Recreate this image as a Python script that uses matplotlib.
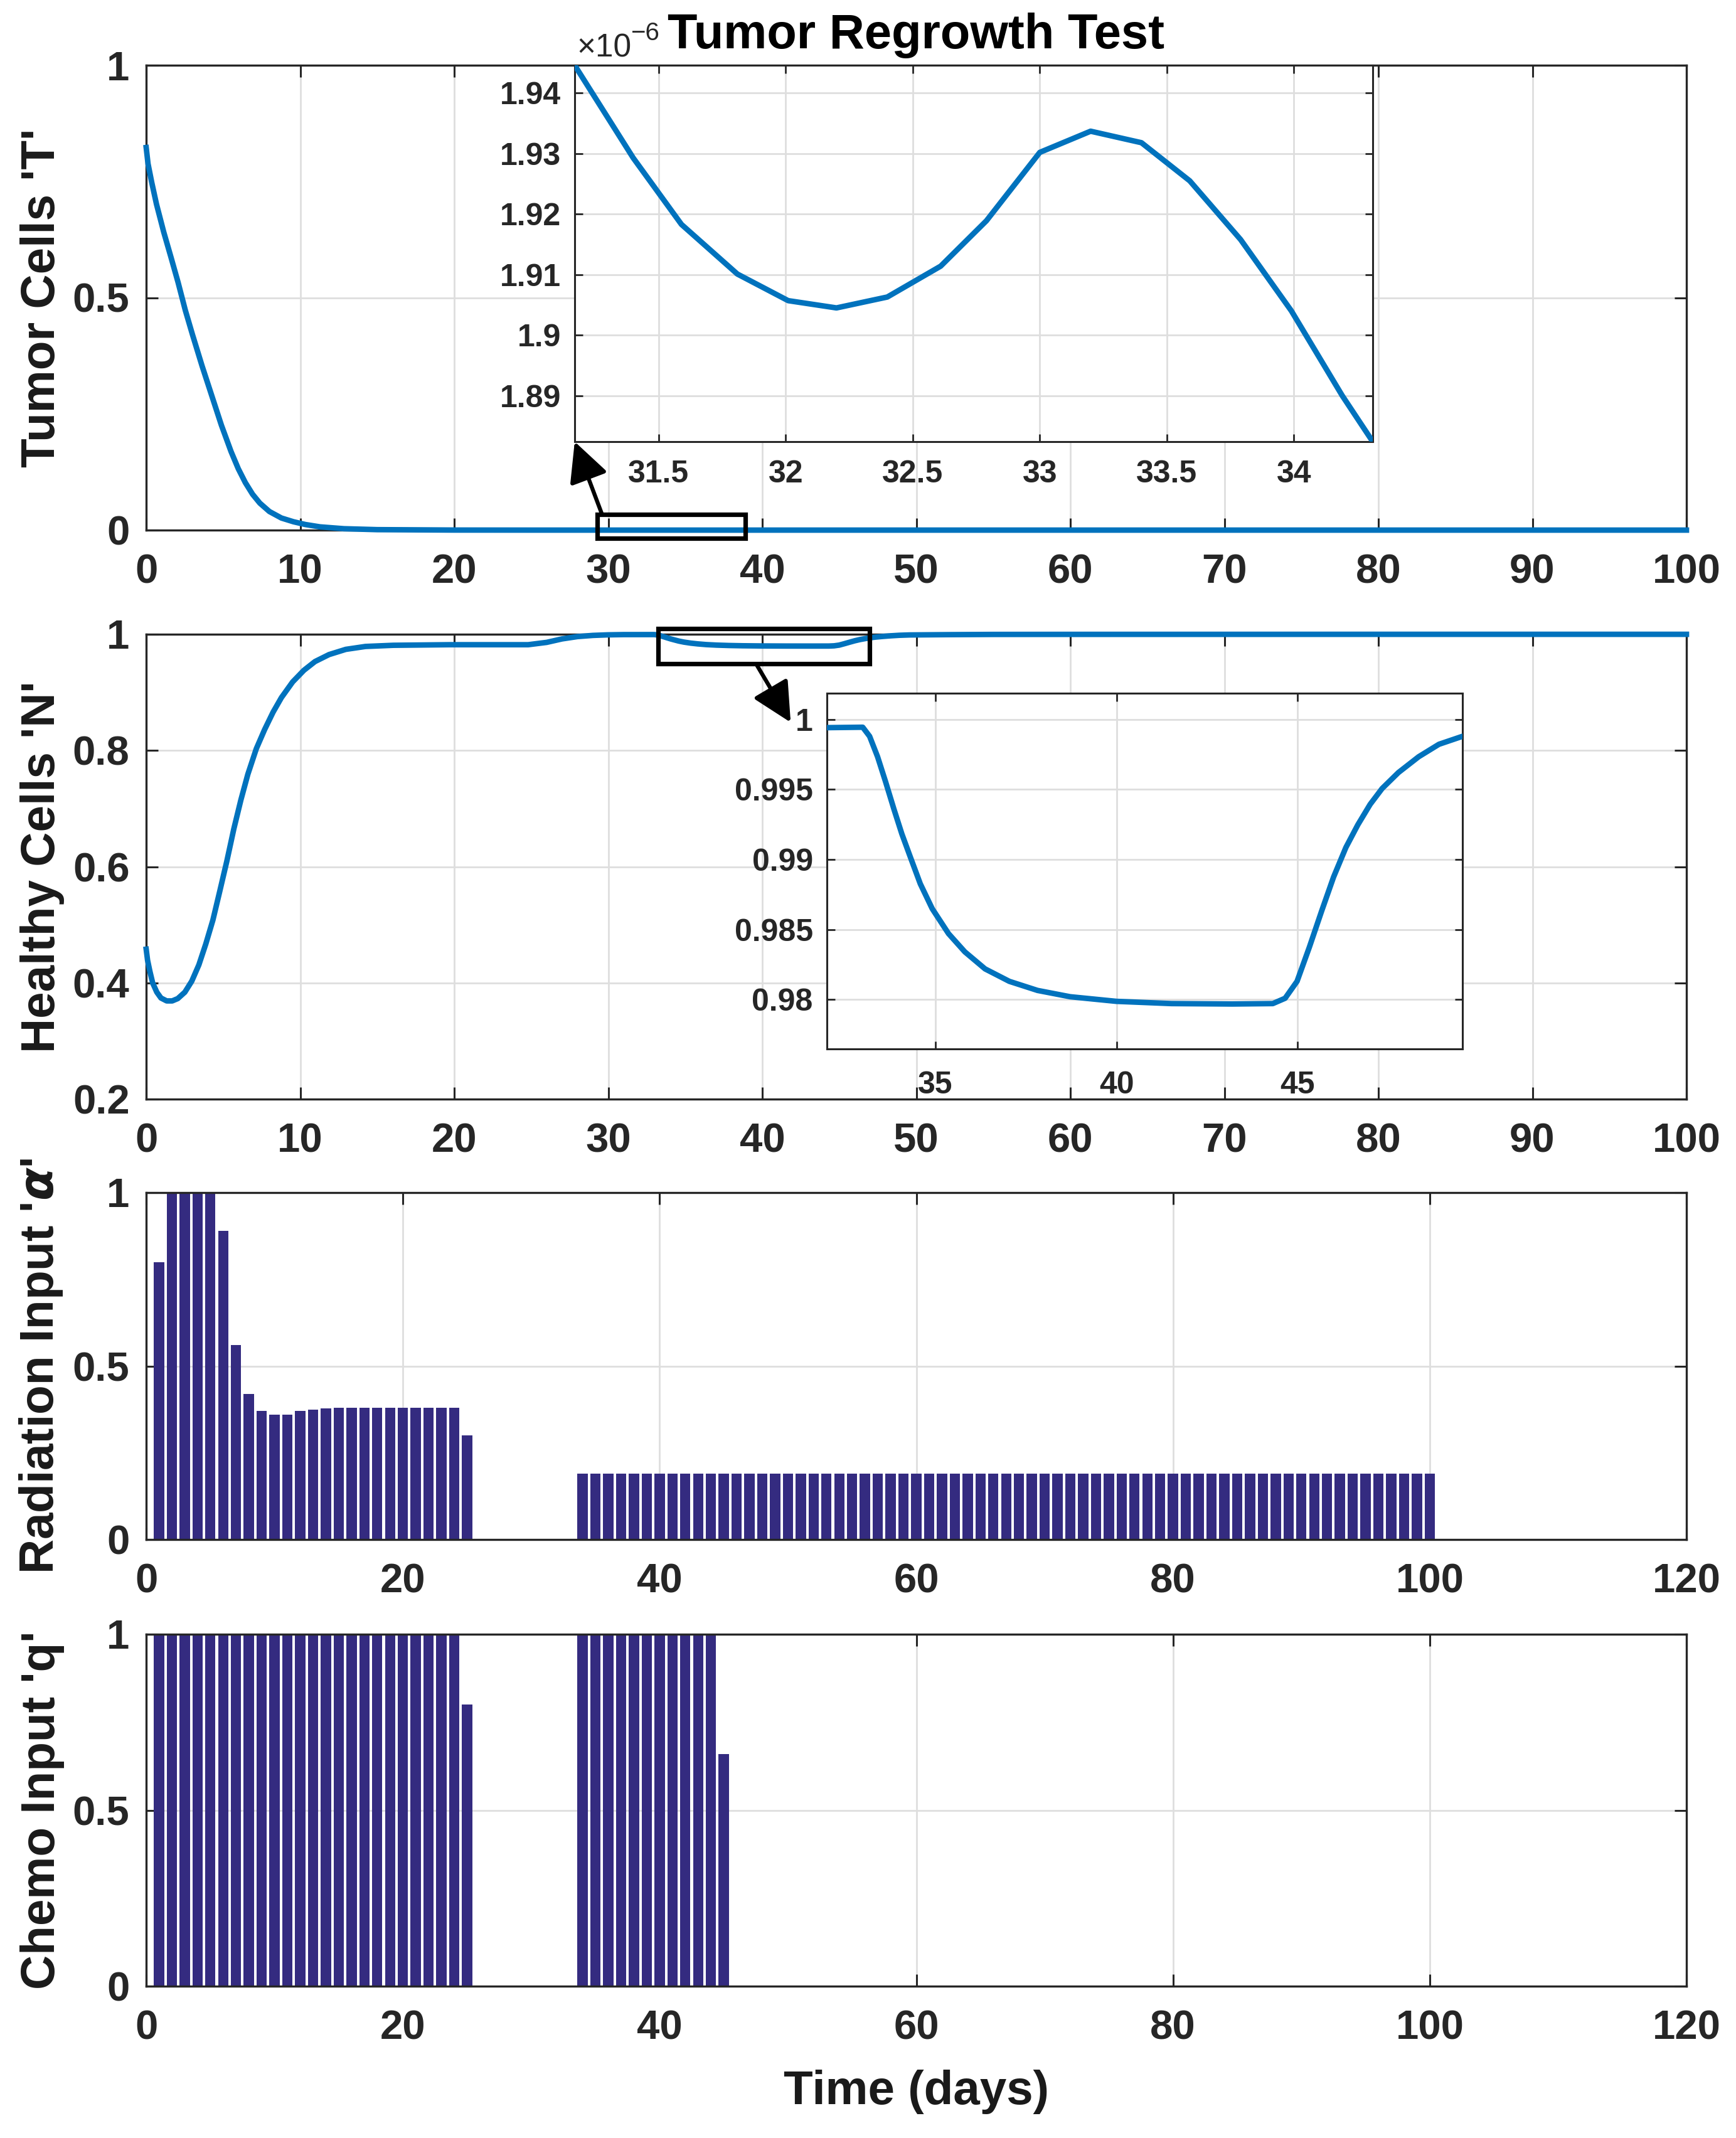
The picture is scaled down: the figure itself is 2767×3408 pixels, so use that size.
import matplotlib
matplotlib.use("Agg")
import matplotlib.pyplot as plt
from matplotlib.patches import Rectangle, ConnectionPatch, ArrowStyle
from matplotlib.ticker import FuncFormatter

plt.rcParams['font.family'] = ['Liberation Sans', 'DejaVu Sans']
plt.rcParams['font.weight'] = 'bold'

# ---------------- data ----------------
# Tumor cells T(t)
t_T = [0, 0.12, 0.36, 0.67, 1.14, 1.61, 2.07, 2.54, 3.01, 3.63, 4.26, 4.88, 5.51,
       5.98, 6.44, 6.91, 7.38, 8.0, 8.78, 9.56, 10.34, 11.28, 12.84, 15.0, 20.0,
       25.0, 30.0,
       31.17, 31.40, 31.59, 31.81, 32.01, 32.20, 32.40, 32.61, 32.79, 33.00,
       33.20, 33.40, 33.59, 33.79, 33.99, 34.19, 34.31,
       40.0, 60.0, 80.0, 100.0]
T = [0.823, 0.788, 0.748, 0.701, 0.641, 0.587, 0.533, 0.473, 0.420, 0.353, 0.289,
     0.226, 0.169, 0.132, 0.102, 0.077, 0.058, 0.040, 0.026, 0.018, 0.012, 0.007,
     0.003, 0.001, 1e-4, 1e-5, 2.2e-6,
     1.9446e-6, 1.9293e-6, 1.9183e-6, 1.9101e-6, 1.9057e-6, 1.9045e-6, 1.9063e-6,
     1.9114e-6, 1.9189e-6, 1.9302e-6, 1.9337e-6, 1.9318e-6, 1.9255e-6, 1.9158e-6,
     1.9040e-6, 1.8900e-6, 1.8824e-6,
     1.5e-6, 1.0e-6, 7e-7, 5e-7]

# Healthy cells N(t)
t_N = [0, 0.09, 0.24, 0.42, 0.69, 0.96, 1.33, 1.69, 2.05, 2.51, 2.96, 3.42, 3.87,
       4.33, 4.78, 5.24, 5.69, 6.15, 6.6, 7.15, 7.69, 8.24, 8.78, 9.51, 10.24,
       10.96, 11.87, 12.96, 14.24, 16.05, 19.7, 24.8, 26.0, 27.0, 28.0, 29.0,
       30.0, 31.0,
       32.0, 32.99, 33.18, 33.40, 33.62, 33.85, 34.07, 34.30, 34.58, 34.91, 35.36,
       35.81, 36.37, 37.04, 37.82, 38.72, 40.0, 41.52, 43.2, 44.32, 44.66, 44.99,
       45.33, 45.67, 46.0, 46.34, 46.67, 47.01, 47.34, 47.79, 48.35, 48.91, 49.56,
       52.0, 55.0, 60.0, 80.0, 100.0]
N = [0.458, 0.439, 0.420, 0.400, 0.384, 0.374, 0.369, 0.369, 0.373, 0.384, 0.403,
     0.431, 0.467, 0.508, 0.558, 0.610, 0.665, 0.715, 0.759, 0.803, 0.836, 0.866,
     0.891, 0.918, 0.938, 0.953, 0.965, 0.974, 0.979, 0.981, 0.982, 0.982, 0.986,
     0.992, 0.996, 0.998, 0.999, 0.9994,
     0.99942, 0.99945, 0.99880, 0.99734, 0.99556, 0.99361, 0.99183, 0.99021,
     0.98826, 0.98648, 0.98470, 0.98340, 0.98218, 0.98129, 0.98064, 0.98019,
     0.97986, 0.97970, 0.97967, 0.97970, 0.98008, 0.98129, 0.98373, 0.98632,
     0.98875, 0.99086, 0.99248, 0.99394, 0.99507, 0.99621, 0.99734, 0.99823,
     0.99880,
     0.9993, 0.9997, 0.9998, 0.9999, 0.9999]

# Radiation input alpha (daily doses)
rad_days = list(range(1, 26)) + list(range(34, 101))
rad_vals = [0.80, 1.00, 1.00, 1.00, 1.00, 0.89, 0.56, 0.42, 0.37, 0.36,
            0.36, 0.37, 0.375, 0.378, 0.38, 0.38, 0.38, 0.38, 0.38, 0.38,
            0.38, 0.38, 0.38, 0.38, 0.30,
            0.19, 0.19, 0.19, 0.19, 0.19, 0.19, 0.19, 0.19, 0.19, 0.19,
            0.19, 0.19, 0.19, 0.19, 0.19, 0.19, 0.19, 0.19, 0.19, 0.19,
            0.19, 0.19, 0.19, 0.19, 0.19, 0.19, 0.19, 0.19, 0.19, 0.19,
            0.19, 0.19, 0.19, 0.19, 0.19, 0.19, 0.19, 0.19, 0.19, 0.19,
            0.19, 0.19, 0.19, 0.19, 0.19, 0.19, 0.19, 0.19, 0.19, 0.19,
            0.19, 0.19, 0.19, 0.19, 0.19, 0.19, 0.19, 0.19, 0.19, 0.19,
            0.19, 0.19, 0.19, 0.19, 0.19, 0.19, 0.19]

# Chemo input q (daily doses)
chemo_days = list(range(1, 26)) + list(range(34, 46))
chemo_vals = [1, 1, 1, 1, 1, 1, 1, 1, 1, 1, 1, 1, 1, 1, 1, 1, 1, 1, 1, 1, 1, 1, 1, 1, 0.80,
              1, 1, 1, 1, 1, 1, 1, 1, 1, 1, 1, 0.66]

main_xticks_top = [0, 10, 20, 30, 40, 50, 60, 70, 80, 90, 100]
main_xticks_bot = [0, 20, 40, 60, 80, 100, 120]
in1_xticks = [31.5, 32, 32.5, 33, 33.5, 34]
in1_yticks = [1.89e-6, 1.90e-6, 1.91e-6, 1.92e-6, 1.93e-6, 1.94e-6]
in2_xticks = [35, 40, 45]
in2_yticks = [0.98, 0.985, 0.99, 0.995, 1.0]

# zoom windows
zoom1_x = (29.27, 38.91)
zoom1_y = (-0.0178, 0.0335)
zoom2_x = (33.25, 46.95)
zoom2_y = (0.949, 1.0094)

# ---------------- styling ----------------
W, H = 2767, 3408
DPI = 100
LINE_C = '#0072BD'
BAR_C = '#342B80'
AX_C = '#262626'
GRID_C = '#dedede'
LW = 6.3


def rect(l, t, r, b):
    return [l / W, 1 - b / H, (r - l) / W, (b - t) / H]


fig = plt.figure(figsize=(W / DPI, H / DPI), dpi=DPI)
fig.patch.set_facecolor('white')


def style_main(ax, xpad=27, ypad=19):
    ax.tick_params(direction='in', length=14, width=2.2, top=True, right=True,
                   labelsize=47, colors=AX_C)
    ax.tick_params(axis='x', pad=xpad)
    ax.tick_params(axis='y', pad=ypad)
    ax.grid(True, color=GRID_C, linewidth=2)
    ax.set_axisbelow(True)
    for s in ax.spines.values():
        s.set_linewidth(2.4)
        s.set_color(AX_C)
    ax.xaxis.set_major_formatter(FuncFormatter(lambda v, p: f"{v:g}"))
    ax.yaxis.set_major_formatter(FuncFormatter(lambda v, p: f"{round(v, 4):g}"))
    for lab in ax.get_xticklabels() + ax.get_yticklabels():
        lab.set_fontweight('bold')


def style_inset(ax, xpad, ypad):
    ax.tick_params(direction='in', length=9, width=2, top=True, right=True,
                   labelsize=36, colors=AX_C)
    ax.tick_params(axis='x', pad=xpad)
    ax.tick_params(axis='y', pad=ypad)
    ax.grid(True, color=GRID_C, linewidth=2)
    ax.set_axisbelow(True)
    ax.set_facecolor('white')
    for s in ax.spines.values():
        s.set_linewidth(2.2)
        s.set_color(AX_C)


YLAB_X = -0.053
YLAB_KW = dict(fontsize=55, fontweight='bold', color='#1a1a1a')

# ---- panel 1: tumor ----
ax1 = fig.add_axes(rect(233, 104, 2688, 845))
ax1.plot(t_T, T, color=LINE_C, lw=LW, clip_on=False, zorder=3,
         solid_joinstyle='round')
ax1.set_xlim(0, 100)
ax1.set_ylim(0, 1)
ax1.set_xticks(main_xticks_top)
ax1.set_yticks([0, 0.5, 1])
style_main(ax1)
ax1.set_ylabel("Tumor Cells 'T'", **YLAB_KW)
ax1.yaxis.set_label_coords(YLAB_X, 0.5)
ax1.set_title('Tumor Regrowth Test', fontsize=56, fontweight='bold', pad=19.4, color='black')
ax1.add_patch(Rectangle((zoom1_x[0], zoom1_y[0]), zoom1_x[1] - zoom1_x[0],
                        zoom1_y[1] - zoom1_y[0], fill=False, ec='black', lw=5.2,
                        clip_on=False, zorder=6))

# ---- panel 2: healthy ----
ax2 = fig.add_axes(rect(233, 1011, 2688, 1752))
ax2.plot(t_N, N, color=LINE_C, lw=LW, clip_on=False, zorder=3,
         solid_joinstyle='round')
ax2.set_xlim(0, 100)
ax2.set_ylim(0.2, 1)
ax2.set_xticks(main_xticks_top)
ax2.set_yticks([0.2, 0.4, 0.6, 0.8, 1.0])
style_main(ax2)
ax2.set_ylabel("Healthy Cells 'N'", **YLAB_KW)
ax2.yaxis.set_label_coords(YLAB_X, 0.5)
ax2.add_patch(Rectangle((zoom2_x[0], zoom2_y[0]), zoom2_x[1] - zoom2_x[0],
                        zoom2_y[1] - zoom2_y[0], fill=False, ec='black', lw=5.2,
                        clip_on=False, zorder=6))

# ---- panel 3: radiation ----
ax3 = fig.add_axes(rect(233, 1901, 2688, 2454))
ax3.bar(rad_days, rad_vals, width=0.8, color=BAR_C, edgecolor='none', zorder=2)
ax3.set_xlim(0, 120)
ax3.set_ylim(0, 1)
ax3.set_xticks(main_xticks_bot)
ax3.set_yticks([0, 0.5, 1])
style_main(ax3)
ax3.set_ylabel("Radiation Input '$\\alpha$'", **YLAB_KW)
ax3.yaxis.set_label_coords(YLAB_X, 0.5)

# ---- panel 4: chemo ----
ax4 = fig.add_axes(rect(233, 2605, 2688, 3166))
ax4.bar(chemo_days, chemo_vals, width=0.8, color=BAR_C, edgecolor='none', zorder=2)
ax4.set_xlim(0, 120)
ax4.set_ylim(0, 1)
ax4.set_xticks(main_xticks_bot)
ax4.set_yticks([0, 0.5, 1])
style_main(ax4)
ax4.set_ylabel("Chemo Input 'q'", **YLAB_KW)
ax4.yaxis.set_label_coords(YLAB_X, 0.5)
ax4.set_xlabel('Time (days)', fontsize=55, fontweight='bold', color='#1a1a1a')
ax4.xaxis.set_label_coords(0.5, -0.237)

# ---- inset 1 (tumor zoom) ----
axi1 = fig.add_axes(rect(916, 104, 2188, 704))
axi1.plot(t_T, T, color=LINE_C, lw=LW, zorder=3, solid_joinstyle='round')
axi1.set_xlim(31.17, 34.31)
axi1.set_ylim(1.8824e-6, 1.9446e-6)
axi1.set_xticks(in1_xticks)
axi1.set_yticks(in1_yticks)
axi1.xaxis.set_major_formatter(FuncFormatter(lambda v, p: f"{v:g}"))
axi1.yaxis.set_major_formatter(FuncFormatter(lambda v, p: f"{round(v * 1e6, 3):g}"))
style_inset(axi1, xpad=21, ypad=16)
for lab in axi1.get_xticklabels() + axi1.get_yticklabels():
    lab.set_fontweight('bold')
axi1.annotate('×10', xy=(0, 1), xycoords='axes fraction', xytext=(2.5, 10),
              textcoords='offset points', ha='left', va='baseline',
              fontsize=37, fontweight='normal', color=AX_C)
axi1.annotate('−6', xy=(0, 1), xycoords='axes fraction', xytext=(64, 29),
              textcoords='offset points', ha='left', va='baseline',
              fontsize=29, fontweight='normal', color=AX_C)

# ---- inset 2 (healthy zoom) ----
axi2 = fig.add_axes(rect(1318, 1105, 2331, 1672))
axi2.plot(t_N, N, color=LINE_C, lw=LW, zorder=3, solid_joinstyle='round')
axi2.set_xlim(32.0, 49.56)
axi2.set_ylim(0.97646, 1.00188)
axi2.set_xticks(in2_xticks)
axi2.set_yticks(in2_yticks)
axi2.xaxis.set_major_formatter(FuncFormatter(lambda v, p: f"{v:g}"))
axi2.yaxis.set_major_formatter(FuncFormatter(lambda v, p: f"{round(v, 4):g}"))
style_inset(axi2, xpad=25, ypad=16)
for lab in axi2.get_xticklabels() + axi2.get_yticklabels():
    lab.set_fontweight('bold')

# ---- arrows ----
astyle = ArrowStyle('-|>', head_length=0.4, head_width=0.2)
arr1 = ConnectionPatch(xyA=(29.6, zoom1_y[1]), coordsA=ax1.transData,
                       xyB=(0, 0), coordsB=axi1.transAxes,
                       arrowstyle=astyle, mutation_scale=97, lw=4.6,
                       color='black', zorder=10)
fig.add_artist(arr1)
arr2 = ConnectionPatch(xyA=(39.6, zoom2_y[0]), coordsA=ax2.transData,
                       xyB=(-0.057, 0.918), coordsB=axi2.transAxes,
                       arrowstyle=astyle, mutation_scale=97, lw=4.6,
                       color='black', zorder=10)
fig.add_artist(arr2)

fig.savefig('out.png', dpi=DPI, facecolor='white')
